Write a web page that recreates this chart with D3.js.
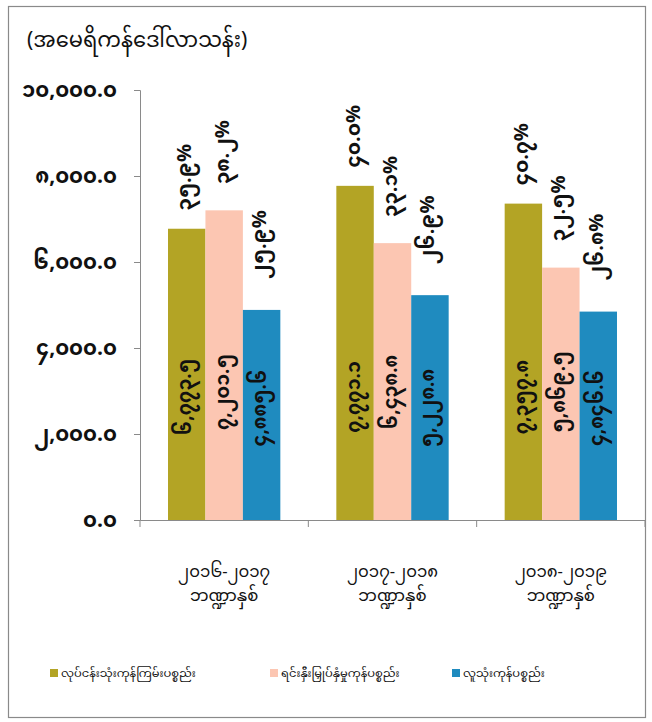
<!DOCTYPE html>
<html>
<head>
<meta charset="utf-8">
<script src="https://cdn.jsdelivr.net/npm/d3@7"></script>
<style>
  html, body { margin: 0; padding: 0; background: #fff; }
  svg text { font-family: "Noto Sans Myanmar", "Padauk", "Myanmar Text", "Noto Sans", "DejaVu Sans", sans-serif; fill: #111; }
</style>
</head>
<body>
<svg id="chart" width="652" height="722"></svg>
<script>
// ---- data ----
const categoryYears = ["၂၀၁၆-၂၀၁၇", "၂၀၁၇-၂၀၁၈", "၂၀၁၈-၂၀၁၉"];
const categorySuffix = "ဘဏ္ဍာနှစ်";
const seriesNames = ["လုပ်ငန်းသုံးကုန်ကြမ်းပစ္စည်း", "ရင်းနှီးမြှုပ်နှံမှုကုန်ပစ္စည်း", "လူသုံးကုန်ပစ္စည်း"];
const rawMaterials  = [6773.5, 7771.1, 7357.8];
const capitalGoods  = [7201.5, 6438.8, 5869.5];
const consumerGoods = [4885.6, 5228.8, 4846.6];
const rawShare      = [35.9, 40.0, 40.7];
const capitalShare  = [38.2, 33.1, 32.5];
const consumerShare = [25.9, 26.9, 26.8];
const yTicks = [0, 2000, 4000, 6000, 8000, 10000];
const unitLabel = "(အမေရိကန်ဒေါ်လာသန်း)";

const seriesValues = [rawMaterials, capitalGoods, consumerGoods];
const seriesShares = [rawShare, capitalShare, consumerShare];
const colors = ["#b3a425", "#fcc6b2", "#1f8bbf"];

// Myanmar digit conversion
const mmDigits = "၀၁၂၃၄၅၆၇၈၉";
const toMM = s => String(s).replace(/[0-9]/g, d => mmDigits[+d]);
const fmtVal = v => toMM(d3.format(",.1f")(v));
const fmtPct = v => toMM(d3.format(".1f")(v)) + "%";

const svg = d3.select("#chart");

// frame
svg.append("rect").attr("x", 8.5).attr("y", 6.5).attr("width", 637).attr("height", 711)
  .attr("fill", "#fff").attr("stroke", "#8a8a8a").attr("stroke-width", 1.2);

const plotLeft = 140, plotRight = 645, plotTop = 90, plotBottom = 520;

const x0 = d3.scaleBand().domain(d3.range(categoryYears.length)).range([plotLeft, plotRight]).padding(0);
const x1 = d3.scaleBand().domain(d3.range(seriesNames.length))
  .range([28, x0.bandwidth() - 28]).padding(0);
const y = d3.scaleLinear().domain([0, 10000]).range([plotBottom, plotTop]);

// unit label
svg.append("text").attr("x", 27).attr("y", 47).attr("font-size", 21).text(unitLabel);

// y axis
const yAxis = d3.axisLeft(y).tickValues(yTicks).tickFormat(fmtVal).tickSize(6).tickPadding(17);
const gy = svg.append("g").attr("transform", `translate(${plotLeft},0)`).call(yAxis);
gy.select(".domain").attr("stroke", "#8a8a8a");
gy.selectAll(".tick line").attr("stroke", "#8a8a8a");
gy.selectAll(".tick text").attr("font-size", 21).attr("font-weight", "bold").attr("fill", "#111");

// bars
const groups = svg.append("g").selectAll("g").data(categoryYears).join("g")
  .attr("transform", (d, i) => `translate(${x0(i)},0)`);

seriesNames.forEach((name, s) => {
  groups.append("rect")
    .attr("x", (d, i) => x1(s))
    .attr("y", (d, i) => y(seriesValues[s][i]))
    .attr("width", x1.bandwidth())
    .attr("height", (d, i) => y(0) - y(seriesValues[s][i]))
    .attr("fill", colors[s]);
});

// value labels inside bars (rotated)
const insideLift = [123, 128, 112];
seriesNames.forEach((name, s) => {
  groups.append("text")
    .attr("transform", (d, i) => `translate(${x1(s) + x1.bandwidth() / 2},${y(0) - insideLift[s]}) rotate(-90)`)
    .attr("text-anchor", "middle").attr("dominant-baseline", "central")
    .attr("font-size", 19).attr("font-weight", "bold")
    .text((d, i) => fmtVal(seriesValues[s][i]));
});

// share labels above bars (rotated)
const shareGap = [18, 26, 31];
seriesNames.forEach((name, s) => {
  groups.append("text")
    .attr("transform", (d, i) => `translate(${x1(s) + x1.bandwidth() / 2},${y(seriesValues[s][i]) - shareGap[s]}) rotate(-90)`)
    .attr("text-anchor", "start").attr("dominant-baseline", "central")
    .attr("font-size", 20).attr("font-weight", "bold")
    .text((d, i) => fmtPct(seriesShares[s][i]));
});

// x axis
const xAxis = d3.axisBottom(x0).tickSize(0).tickFormat(() => "");
const gx = svg.append("g").attr("transform", `translate(0,${plotBottom})`).call(xAxis);
gx.select(".domain").attr("stroke", "#8a8a8a");
const bounds = d3.range(categoryYears.length + 1).map(i => i < categoryYears.length ? x0(i) : x0(i - 1) + x0.bandwidth());
gx.selectAll("line.bound").data(bounds).join("line").attr("class", "bound")
  .attr("x1", d => d).attr("x2", d => d).attr("y1", 0).attr("y2", 7).attr("stroke", "#8a8a8a");

// category labels
const catG = svg.append("g").selectAll("g").data(categoryYears).join("g")
  .attr("transform", (d, i) => `translate(${x0(i) + x0.bandwidth() / 2},0)`);
catG.append("text").attr("text-anchor", "middle").attr("font-size", 16.5).attr("y", 577).text(d => d);
catG.append("text").attr("text-anchor", "middle").attr("font-size", 16.5).attr("y", 601).text(categorySuffix);

// legend
const legendX = [50, 270, 452];
const lg = svg.append("g").selectAll("g").data(seriesNames).join("g")
  .attr("transform", (d, i) => `translate(${legendX[i]},674)`);
lg.append("rect").attr("x", 0).attr("y", -5).attr("width", 8).attr("height", 8).attr("fill", (d, i) => colors[i]);
lg.append("text").attr("x", 11).attr("y", 0).attr("dominant-baseline", "central")
  .attr("font-size", 11.5).text(d => d);
</script>
</body>
</html>
